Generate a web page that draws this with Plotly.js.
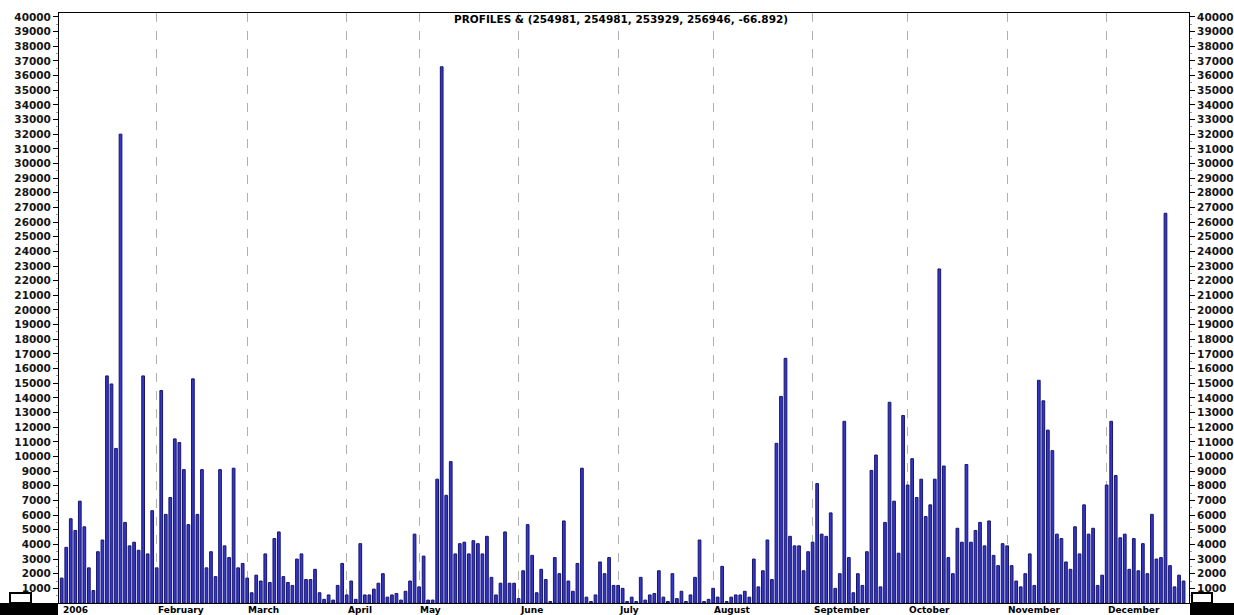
<!DOCTYPE html>
<html>
<head>
<meta charset="utf-8">
<script src="https://cdn.plot.ly/plotly-3.0.1.min.js"></script>
<style>
  html, body { margin: 0; padding: 0; background: #ffffff; }
  #chart { width: 1234px; height: 615px; }
</style>
</head>
<body>
<div id="chart"></div>
<script>
// ---- Data ----
const chartTitle = "PROFILES & (254981, 254981, 253929, 256946, -66.892)";

const monthLabels = ["2006", "February", "March", "April", "May", "June", "July",
                     "August", "September", "October", "November", "December"];
// index of the first bar of each month
const monthStarts = [0, 21, 41, 63, 79, 101, 123, 144, 166, 187, 209, 231];

// one bar per day (249 bars)
const values = [
  1700, 3800, 5750, 4950, 6950, 5200, 2400, 850, 3500, 4300,
  15500, 14950, 10550, 32000, 5500, 3900, 4150, 3600, 15500, 3350,
  6300, 2400, 14500, 6050, 7200, 11200, 10950, 9100, 5350, 15300,
  6050, 9100, 2400, 3500, 1800, 9100, 3900, 3100, 9200, 2400,
  2700, 1700, 700, 1900, 1500, 3350, 1400, 4400, 4850, 1800,
  1400, 1200, 3000, 3350, 1600, 1600, 2300, 700, 250, 550,
  200, 1200, 2700, 550, 1500, 250, 4050, 550, 550, 950,
  1350, 2000, 400, 550, 650, 200, 800, 1500, 4700, 1100,
  3200, 200, 200, 8450, 36600, 7350, 9650, 3350, 4050, 4150,
  3350, 4250, 4050, 3350, 4550, 1750, 550, 1350, 4850, 1350,
  1350, 300, 2200, 5350, 3250, 700, 2300, 1600, 100, 3100,
  2000, 5600, 1500, 800, 2700, 9200, 400, 100, 550, 2800,
  2000, 3100, 1200, 1200, 1000, 100, 400, 100, 1750, 200,
  550, 650, 2200, 400, 100, 2000, 300, 800, 100, 550,
  1750, 4300, 100, 250, 1000, 400, 2500, 100, 400, 550,
  550, 800, 400, 3000, 1100, 2200, 4300, 1600, 10900, 14100,
  16700, 4550, 3900, 3900, 2200, 3500, 4150, 8150, 4700, 4550,
  6150, 1000, 2000, 12400, 3100, 700, 2000, 1200, 3500, 9050,
  10100, 1100, 5500, 13700, 6950, 3400, 12800, 8050, 9850, 7200,
  8450, 5900, 6700, 8450, 22800, 9350, 3100, 2000, 5100, 4150,
  9450, 4150, 4950, 5500, 3900, 5600, 3250, 2550, 4050, 3900,
  2550, 1500, 1100, 2000, 3350, 1200, 15200, 13800, 11800, 10400,
  4700, 4400, 2800, 2300, 5200, 3350, 6700, 4700, 5100, 1200,
  1900, 8050, 12400, 8700, 4450, 4700, 2300, 4400, 2200, 4050,
  2000, 6050, 3000, 3100, 26600, 2550, 1100, 1900, 1500
];

const yTickValues = [];
for (let v = 1000; v <= 40000; v += 1000) yTickValues.push(v);

// ---- Build chart ----
const xIdx = values.map((_, i) => i);

const M = { l: 59, r: 45, t: 13, b: 12 };
const plotW = 1234 - M.l - M.r;
const plotH = 615 - M.t - M.b;

const tickFont = { family: "DejaVu Sans", size: 10.5, color: "#151515", weight: "bold" };

const trace = {
  type: "bar",
  x: xIdx,
  y: values,
  width: 0.6,
  marker: { color: "#3636c8", line: { color: "#15156e", width: 1 } },
  hoverinfo: "y",
  showlegend: false
};

// invisible helper trace so that the right-hand value axis is drawn
const rightAxisHelper = {
  type: "scatter", mode: "markers",
  x: [xIdx[0]], y: [values[0]], yaxis: "y2",
  marker: { opacity: 0 }, hoverinfo: "skip", showlegend: false
};

const annotations = monthLabels.map((m, k) => ({
  text: m, xref: "x", yref: "paper",
  x: monthStarts[k], y: 0, xanchor: "left", yanchor: "top",
  xshift: -1, yshift: 0, showarrow: false,
  font: { family: "DejaVu Sans", size: 9, color: "#000000", weight: "bold" }
}));
annotations.push({
  text: chartTitle, xref: "paper", yref: "paper",
  x: (621 - M.l) / plotW, y: (plotH - (19 - M.t)) / plotH,
  xanchor: "center", yanchor: "middle", showarrow: false,
  font: { family: "DejaVu Sans", size: 10.5, color: "#000000", weight: "bold" }
});

const pxX = px => (px - M.l) / plotW;
const pxY = py => (615 - M.b - py) / plotH;

const shapes = [
  // bottom black bands
  { type: "rect", xref: "paper", yref: "paper", x0: pxX(0), x1: pxX(58), y0: pxY(615), y1: pxY(603),
    fillcolor: "#000000", line: { width: 0 }, layer: "above" },
  { type: "rect", xref: "paper", yref: "paper", x0: pxX(1190), x1: pxX(1234), y0: pxY(615), y1: pxY(603),
    fillcolor: "#000000", line: { width: 0 }, layer: "above" },
  // small corner icons
  { type: "rect", xref: "paper", yref: "paper", x0: pxX(10), x1: pxX(31), y0: pxY(603), y1: pxY(593),
    fillcolor: "#ffffff", line: { color: "#000000", width: 2 }, layer: "above" },
  { type: "rect", xref: "paper", yref: "paper", x0: pxX(1192), x1: pxX(1212), y0: pxY(603), y1: pxY(593),
    fillcolor: "#ffffff", line: { color: "#000000", width: 2 }, layer: "above" }
];

const yAxisBase = {
  range: [0, 40270],
  tickmode: "array",
  tickvals: yTickValues,
  ticktext: yTickValues.map(String),
  ticks: "outside",
  ticklen: 5,
  tickwidth: 1,
  tickcolor: "#000000",
  tickfont: tickFont,
  showgrid: false,
  zeroline: false,
  fixedrange: true,
  minor: { dtick: 500, tick0: 0, ticks: "outside", ticklen: 2, tickcolor: "#999999", showgrid: false }
};

const layout = {
  width: 1234,
  height: 615,
  margin: { l: M.l, r: M.r, t: M.t, b: M.b, pad: 0 },
  paper_bgcolor: "#ffffff",
  plot_bgcolor: "#ffffff",
  showlegend: false,
  xaxis: {
    range: [-0.6, 249.2],
    tickmode: "array",
    tickvals: monthStarts.slice(1),
    showticklabels: false,
    ticks: "",
    showgrid: true,
    gridcolor: "#b0b0b0",
    griddash: "dash",
    gridwidth: 1,
    zeroline: false,
    showline: true,
    linecolor: "#000000",
    linewidth: 1,
    mirror: true,
    fixedrange: true
  },
  yaxis: Object.assign({}, yAxisBase, {
    side: "left",
    showline: true, linecolor: "#000000", linewidth: 1
  }),
  yaxis2: Object.assign({}, yAxisBase, {
    overlaying: "y", side: "right", anchor: "x",
    showline: true, linecolor: "#000000", linewidth: 1
  }),
  annotations: annotations,
  shapes: shapes
};

Plotly.newPlot("chart", [trace, rightAxisHelper], layout, { displayModeBar: false, staticPlot: true });
</script>
</body>
</html>
